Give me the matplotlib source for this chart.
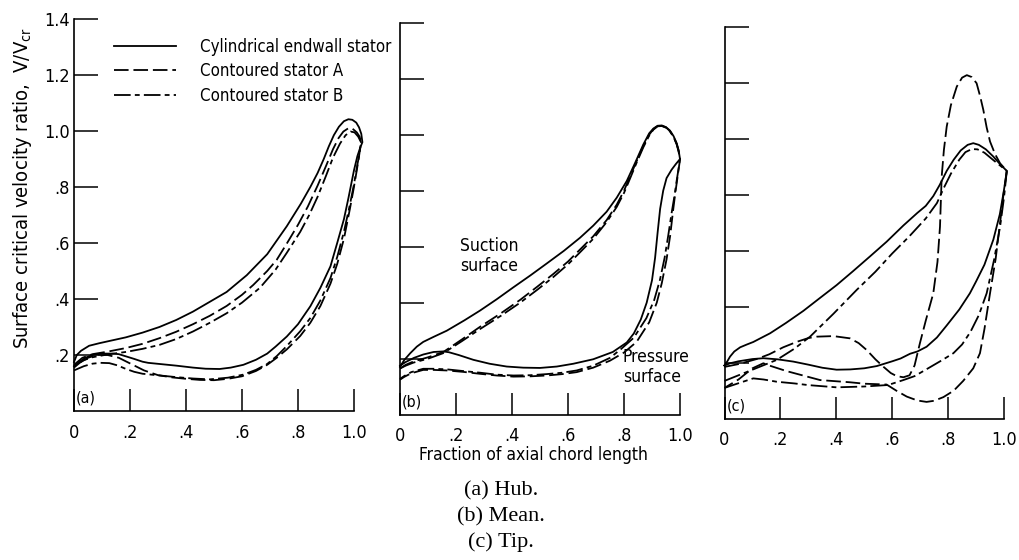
import matplotlib
matplotlib.use("Agg")
import matplotlib.pyplot as plt

# ---------------- data (closed loops: suction surface from LE to TE, then pressure surface back) -------------
# (a) Hub
hub_cyl_x = [0, 0.01, 0.025, 0.054, 0.09, 0.126, 0.185, 0.245, 0.305, 0.365, 0.425, 0.485, 0.545, 0.617, 0.69, 0.76, 0.81, 0.844, 0.87, 0.892, 0.91, 0.928, 0.946, 0.964, 0.98, 0.994, 1.008, 1.018, 1.026, 1.03,
             1.022, 1.012, 1.0, 0.99, 0.98, 0.964, 0.94, 0.916, 0.88, 0.844, 0.8, 0.76, 0.72, 0.69, 0.65, 0.605, 0.56, 0.52, 0.47, 0.425, 0.365, 0.305, 0.265, 0.245, 0.215, 0.186, 0.16, 0.138, 0.1, 0.066, 0.04, 0.015, 0]
hub_cyl_y = [0.175, 0.2, 0.215, 0.233, 0.242, 0.25, 0.263, 0.28, 0.3, 0.325, 0.355, 0.39, 0.425, 0.485, 0.56, 0.66, 0.74, 0.8, 0.85, 0.9, 0.945, 0.985, 1.015, 1.035, 1.042, 1.04, 1.03, 1.013, 0.99, 0.96,
             0.94, 0.91, 0.86, 0.81, 0.76, 0.685, 0.6, 0.517, 0.44, 0.374, 0.31, 0.266, 0.23, 0.205, 0.183, 0.165, 0.155, 0.15, 0.151, 0.155, 0.162, 0.168, 0.172, 0.176, 0.186, 0.195, 0.203, 0.205, 0.205, 0.2, 0.19, 0.172, 0.16]
hub_a_x = [0, 0.03, 0.066, 0.12, 0.186, 0.245, 0.305, 0.365, 0.425, 0.485, 0.545, 0.6, 0.64, 0.69, 0.724, 0.76, 0.8, 0.835, 0.87, 0.9, 0.925, 0.945, 0.962, 0.98, 0.995, 1.01, 1.02, 1.025,
           1.018, 1.01, 0.998, 0.985, 0.964, 0.94, 0.916, 0.88, 0.844, 0.808, 0.76, 0.724, 0.69, 0.65, 0.6, 0.55, 0.5, 0.45, 0.4, 0.35, 0.3, 0.25, 0.2, 0.16, 0.12, 0.08, 0.05, 0.02, 0]
hub_a_y = [0.165, 0.19, 0.203, 0.212, 0.225, 0.24, 0.26, 0.283, 0.31, 0.34, 0.375, 0.415, 0.45, 0.5, 0.54, 0.598, 0.665, 0.73, 0.805, 0.875, 0.935, 0.975, 0.998, 1.01, 1.008, 0.995, 0.98, 0.96,
           0.91, 0.86, 0.79, 0.72, 0.615, 0.525, 0.455, 0.375, 0.315, 0.268, 0.22, 0.19, 0.165, 0.143, 0.124, 0.115, 0.11, 0.111, 0.115, 0.12, 0.128, 0.145, 0.17, 0.19, 0.2, 0.2, 0.19, 0.172, 0.16]
hub_b_x = [0, 0.03, 0.066, 0.12, 0.186, 0.245, 0.305, 0.365, 0.425, 0.485, 0.545, 0.6, 0.664, 0.72, 0.76, 0.808, 0.84, 0.87, 0.9, 0.925, 0.95, 0.97, 0.988, 1.002, 1.015, 1.025,
           1.02, 1.012, 1.0, 0.985, 0.964, 0.94, 0.916, 0.88, 0.844, 0.808, 0.76, 0.724, 0.69, 0.65, 0.605, 0.55, 0.485, 0.425, 0.365, 0.305, 0.245, 0.215, 0.186, 0.155, 0.126, 0.095, 0.066, 0.035, 0]
hub_b_y = [0.155, 0.18, 0.192, 0.202, 0.211, 0.222, 0.236, 0.257, 0.284, 0.315, 0.349, 0.387, 0.44, 0.505, 0.565, 0.64, 0.7, 0.765, 0.84, 0.905, 0.955, 0.985, 0.998, 0.995, 0.98, 0.96,
           0.92, 0.88, 0.81, 0.735, 0.64, 0.55, 0.475, 0.395, 0.332, 0.285, 0.232, 0.196, 0.168, 0.147, 0.13, 0.119, 0.113, 0.116, 0.121, 0.127, 0.133, 0.14, 0.15, 0.163, 0.171, 0.172, 0.169, 0.16, 0.145]

# (b) Mean
mean_cyl_x = [0, 0.015, 0.036, 0.06, 0.083, 0.12, 0.167, 0.23, 0.286, 0.345, 0.405, 0.465, 0.524, 0.585, 0.643, 0.69, 0.738, 0.774, 0.81, 0.84, 0.869, 0.89, 0.905, 0.92, 0.935, 0.95, 0.964, 0.977, 0.988, 0.995, 1.0,
              0.985, 0.97, 0.952, 0.94, 0.929, 0.92, 0.911, 0.9, 0.881, 0.86, 0.835, 0.81, 0.76, 0.69, 0.619, 0.56, 0.5, 0.44, 0.381, 0.32, 0.262, 0.21, 0.175, 0.155, 0.12, 0.083, 0.05, 0.02, 0]
mean_cyl_y = [0.171, 0.195, 0.219, 0.243, 0.26, 0.278, 0.3, 0.337, 0.372, 0.412, 0.455, 0.497, 0.54, 0.585, 0.632, 0.675, 0.725, 0.775, 0.835, 0.9, 0.965, 1.005, 1.022, 1.032, 1.033, 1.027, 1.015, 0.995, 0.97, 0.945, 0.913,
              0.895, 0.875, 0.845, 0.8, 0.735, 0.65, 0.56, 0.48, 0.4, 0.34, 0.29, 0.258, 0.224, 0.198, 0.182, 0.172, 0.167, 0.168, 0.172, 0.182, 0.196, 0.213, 0.223, 0.226, 0.224, 0.215, 0.203, 0.188, 0.175]
mean_a_x = [0, 0.02, 0.048, 0.1, 0.155, 0.22, 0.286, 0.36, 0.429, 0.49, 0.548, 0.6, 0.643, 0.69, 0.738, 0.774, 0.8, 0.821, 0.845, 0.869, 0.89, 0.905, 0.92, 0.935, 0.95, 0.964, 0.977, 0.988, 0.995, 1.0,
            0.997, 0.99, 0.983, 0.976, 0.965, 0.952, 0.935, 0.917, 0.89, 0.845, 0.8, 0.75, 0.69, 0.631, 0.58, 0.524, 0.465, 0.405, 0.345, 0.286, 0.225, 0.167, 0.12, 0.083, 0.04, 0.015, 0]
mean_a_y = [0.165, 0.178, 0.19, 0.205, 0.224, 0.268, 0.314, 0.362, 0.41, 0.457, 0.503, 0.547, 0.59, 0.637, 0.695, 0.75, 0.8, 0.85, 0.905, 0.96, 1.0, 1.02, 1.031, 1.032, 1.026, 1.013, 0.993, 0.967, 0.942, 0.913,
            0.89, 0.84, 0.79, 0.735, 0.64, 0.555, 0.47, 0.4, 0.33, 0.26, 0.222, 0.193, 0.168, 0.152, 0.145, 0.14, 0.137, 0.136, 0.14, 0.146, 0.153, 0.158, 0.16, 0.16, 0.148, 0.135, 0.125]
mean_b_x = [0, 0.02, 0.048, 0.1, 0.155, 0.22, 0.286, 0.36, 0.429, 0.49, 0.548, 0.6, 0.643, 0.69, 0.738, 0.774, 0.8, 0.821, 0.845, 0.869, 0.89, 0.905, 0.92, 0.935, 0.95, 0.964, 0.977, 0.988, 0.995, 1.0,
            0.995, 0.988, 0.98, 0.97, 0.958, 0.945, 0.928, 0.908, 0.88, 0.835, 0.79, 0.75, 0.69, 0.631, 0.58, 0.524, 0.465, 0.405, 0.345, 0.286, 0.225, 0.167, 0.12, 0.083, 0.04, 0.015, 0]
mean_b_y = [0.165, 0.175, 0.186, 0.2, 0.22, 0.262, 0.306, 0.353, 0.4, 0.446, 0.492, 0.537, 0.58, 0.628, 0.688, 0.742, 0.792, 0.842, 0.9, 0.955, 0.997, 1.018, 1.03, 1.031, 1.025, 1.012, 0.992, 0.966, 0.94, 0.913,
            0.88, 0.835, 0.78, 0.72, 0.64, 0.56, 0.48, 0.41, 0.345, 0.275, 0.235, 0.203, 0.175, 0.158, 0.15, 0.145, 0.141, 0.14, 0.143, 0.15, 0.156, 0.162, 0.164, 0.164, 0.152, 0.138, 0.128]

# (c) Tip
tip_cyl_x = [0, 0.01, 0.02, 0.035, 0.056, 0.08, 0.103, 0.13, 0.163, 0.22, 0.282, 0.34, 0.401, 0.46, 0.521, 0.58, 0.64, 0.69, 0.72, 0.747, 0.77, 0.795, 0.82, 0.845, 0.87, 0.89, 0.91, 0.935, 0.962, 0.985, 1.01,
             1.005, 0.998, 0.985, 0.962, 0.93, 0.9, 0.878, 0.84, 0.795, 0.76, 0.723, 0.69, 0.664, 0.63, 0.6, 0.545, 0.5, 0.45, 0.401, 0.35, 0.3, 0.246, 0.19, 0.139, 0.1, 0.05, 0.02, 0]
tip_cyl_y = [0.19, 0.205, 0.222, 0.24, 0.255, 0.265, 0.274, 0.288, 0.305, 0.342, 0.385, 0.43, 0.477, 0.527, 0.58, 0.632, 0.69, 0.735, 0.76, 0.795, 0.835, 0.885, 0.925, 0.958, 0.978, 0.984, 0.978, 0.962, 0.936, 0.91, 0.885,
             0.85, 0.805, 0.73, 0.64, 0.55, 0.49, 0.448, 0.39, 0.333, 0.29, 0.257, 0.24, 0.232, 0.215, 0.205, 0.188, 0.18, 0.176, 0.175, 0.182, 0.193, 0.204, 0.212, 0.216, 0.213, 0.205, 0.198, 0.19]
tip_a_x = [0, 0.05, 0.115, 0.16, 0.21, 0.26, 0.3, 0.33, 0.39, 0.449, 0.48, 0.509, 0.54, 0.568, 0.595, 0.616, 0.64, 0.662, 0.68, 0.699, 0.72, 0.747, 0.762, 0.771, 0.777, 0.785, 0.795, 0.81, 0.831, 0.85, 0.867, 0.885, 0.902, 0.915, 0.926, 0.938, 0.95, 0.968, 0.986, 1.01,
           0.998, 0.986, 0.97, 0.95, 0.93, 0.914, 0.89, 0.854, 0.82, 0.783, 0.75, 0.723, 0.69, 0.652, 0.615, 0.58, 0.5, 0.45, 0.342, 0.222, 0.16, 0.139, 0.1, 0.05, 0]
tip_a_y = [0.185, 0.195, 0.213, 0.23, 0.255, 0.275, 0.288, 0.293, 0.295, 0.287, 0.27, 0.245, 0.212, 0.186, 0.163, 0.152, 0.148, 0.155, 0.19, 0.269, 0.35, 0.448, 0.56, 0.686, 0.864, 0.96, 1.043, 1.12, 1.186, 1.218, 1.227, 1.22, 1.198, 1.15, 1.103, 1.04, 0.99, 0.945, 0.912, 0.885,
           0.8, 0.7, 0.57, 0.448, 0.32, 0.234, 0.18, 0.135, 0.1, 0.077, 0.064, 0.06, 0.065, 0.079, 0.1, 0.122, 0.125, 0.13, 0.138, 0.17, 0.19, 0.198, 0.18, 0.14, 0.11]
tip_b_x = [0, 0.05, 0.1, 0.187, 0.25, 0.306, 0.39, 0.473, 0.54, 0.6, 0.66, 0.72, 0.76, 0.785, 0.81, 0.84, 0.862, 0.885, 0.905, 0.93, 0.96, 0.985, 1.01,
           1.0, 0.986, 0.965, 0.938, 0.91, 0.88, 0.85, 0.819, 0.78, 0.72, 0.68, 0.64, 0.6, 0.58, 0.5, 0.401, 0.3, 0.25, 0.187, 0.14, 0.103, 0.06, 0.03, 0]
tip_b_y = [0.135, 0.155, 0.175, 0.21, 0.25, 0.293, 0.375, 0.46, 0.525, 0.59, 0.65, 0.715, 0.77, 0.825, 0.875, 0.925, 0.952, 0.963, 0.962, 0.95, 0.925, 0.905, 0.885,
           0.79, 0.686, 0.57, 0.448, 0.37, 0.31, 0.265, 0.234, 0.21, 0.175, 0.152, 0.138, 0.125, 0.12, 0.115, 0.112, 0.12, 0.126, 0.132, 0.14, 0.144, 0.13, 0.12, 0.11]

series_labels = ["Cylindrical endwall stator", "Contoured stator A", "Contoured stator B"]
panel_tags = ["(a)", "(b)", "(c)"]
captions = ["(a) Hub.", "(b) Mean.", "(c) Tip."]
x_ticks = [0, 0.2, 0.4, 0.6, 0.8, 1.0]
x_ticklabels = ["0", ".2", ".4", ".6", ".8", "1.0"]
y_ticks = [0.2, 0.4, 0.6, 0.8, 1.0, 1.2, 1.4]
y_ticklabels = [".2", ".4", ".6", ".8", "1.0", "1.2", "1.4"]

# ---------------- styling ----------------
plt.rcParams["font.family"] = ["DejaVu Sans"]
plt.rcParams["font.stretch"] = "condensed"
plt.rcParams["lines.scale_dashes"] = False
plt.rcParams["mathtext.default"] = "regular"

W, H = 1019, 560
fig = plt.figure(figsize=(W / 100, H / 100), dpi=100)

def box(x0, y0, unit_x, unit_y):
    return [x0 / W, 1 - y0 / H, unit_x / W, 1.4 * unit_y / H]

axes_boxes = [box(74, 411, 280, 280), box(400, 414.7, 280, 280), box(724.5, 418.7, 279.5, 280)]

styles = [dict(linestyle="-"),
          dict(linestyle=(0, (10.5, 3.5))),
          dict(linestyle=(0, (12, 3, 3.5, 3)))]
LW = 1.3
TFS = 13

panels = [
    [(hub_cyl_x, hub_cyl_y), (hub_a_x, hub_a_y), (hub_b_x, hub_b_y)],
    [(mean_cyl_x, mean_cyl_y), (mean_a_x, mean_a_y), (mean_b_x, mean_b_y)],
    [(tip_cyl_x, tip_cyl_y), (tip_a_x, tip_a_y), (tip_b_x, tip_b_y)],
]

axes = []
for i, (bx, data) in enumerate(zip(axes_boxes, panels)):
    ax = fig.add_axes(bx)
    ax.set_xlim(0, 1.0)
    ax.set_ylim(0, 1.4)
    for s in ("top", "right"):
        ax.spines[s].set_visible(False)
    for s in ("left", "bottom"):
        ax.spines[s].set_linewidth(1.2)
    ax.patch.set_visible(False)
    handles = []
    for (xs, ys), st, lab in zip(data, styles, series_labels):
        ln, = ax.plot(xs, ys, color="black", lw=LW, clip_on=False, label=lab, **st)
        handles.append(ln)
    ax.set_xticks(x_ticks)
    ax.set_xticklabels(x_ticklabels, fontsize=TFS)
    ax.set_yticks(y_ticks)
    if i == 0:
        ax.set_yticklabels(y_ticklabels, fontsize=TFS)
    else:
        ax.set_yticklabels([])
    ax.tick_params(axis="x", direction="in", length=16, width=1.1, pad=9)
    ax.tick_params(axis="y", direction="in", length=17, width=1.1, pad=3)
    ax.text(0.008, 0.045, panel_tags[i], fontsize=11.5, ha="left", va="center")
    axes.append(ax)
    if i == 0:
        leg = ax.legend(handles=handles, loc="upper left", bbox_to_anchor=(0.143, 0.952),
                        frameon=False, fontsize=12.1, handlelength=3.7, handletextpad=1.4,
                        labelspacing=0.38, borderaxespad=0, borderpad=0)

axes[1].text(0.214, 0.635, "Suction\nsurface", fontsize=12.5, ha="left", va="top", linespacing=1.15)
axes[1].text(0.796, 0.24, "Pressure\nsurface", fontsize=12.5, ha="left", va="top", linespacing=1.15)

fig.text(533 / W, 1 - 455 / H, "Fraction of axial chord length", fontsize=12.5, ha="center", va="center")
fig.text(23 / W, 1 - 188 / H, "Surface critical velocity ratio,  V/V$_{cr}$", fontsize=14.5,
         rotation=90, ha="center", va="center")

cap_y = [491, 517, 542]
for c, yy in zip(captions, cap_y):
    fig.text(501 / W, 1 - yy / H, c, fontsize=16, ha="center", va="center", family="Liberation Serif")

fig.savefig("out.png", dpi=100, facecolor="white")
